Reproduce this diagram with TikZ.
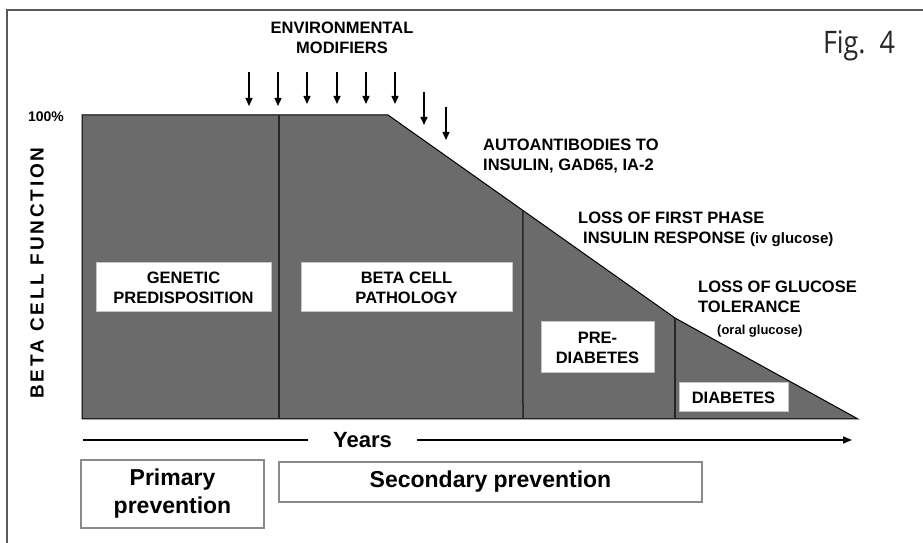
\documentclass[tikz,border=0pt]{standalone}
\usepackage{fontspec}
\setmainfont{Liberation Sans}
\newfontfamily\figfont{Open Sans}
\newfontfamily\spfont[LetterSpace=15]{Liberation Sans}
\usepackage{tikz}
\usetikzlibrary{positioning,arrows.meta,calc}
\definecolor{area}{HTML}{6B6B6B}
\definecolor{rim}{HTML}{8A8A8A}
\newcommand{\lbl}{\fontsize{16.5}{20}\selectfont\bfseries}

\begin{document}
\begin{tikzpicture}[x=1pt,y=1pt]
	\tikzstyle{lab}=[draw=rim!50,fill=white,line width=1pt,align=center,inner sep=0pt,font=\lbl]
	\tikzstyle{note}=[align=left,inner sep=0pt,anchor=west,font=\lbl]
	\tikzstyle{prev}=[draw=rim,line width=1.3pt,align=center,inner sep=0pt,font=\fontsize{23}{28}\selectfont\bfseries]
	\tikzstyle{mod}=[-{Triangle[length=8pt,width=7pt]},line width=1.3pt]
	\useasboundingbox (0,0) rectangle (923,543);
	\draw[black!65, line width=1.5pt] (7,0) -- (7,533) -- (923,533);
		\coordinate (p0) at (82,124);
		\coordinate (p1) at (82,428);
		\coordinate (p2) at (388,428);
		\coordinate (p3) at (675,225);
		\coordinate (p4) at (858,124);
			\filldraw[fill=area, draw=black, line width=1pt] (p0) -- (p1) -- (p2) -- (p3) -- (p4) -- cycle;
			\draw[black!85, line width=1.5pt] (279,124) -- (279,428);
			\draw[black!85, line width=1.5pt] (523,124) -- ($(p2)!0.47!(p3)$);
			\draw[black!85, line width=1.5pt] (675,124) -- (p3);
		\node[rotate=90, font=\spfont\fontsize{19}{21}\selectfont\bfseries] (bcf) at (37,270) {BETA CELL FUNCTION};
		\node[font=\fontsize{14}{16}\selectfont\bfseries] (pct) at (46,426) {100\%};
		\node[font=\lbl, align=center] (env) at (342,505) {ENVIRONMENTAL\\MODIFIERS};
		\node[anchor=base, text=black!85] (fig) at (859,489) {\resizebox{72pt}{\height}{\figfont\fontsize{31}{36}\selectfont Fig.~~4}};
		\coordinate (m1) at (249,471); \coordinate (n1) at (249,437);
		\coordinate (m2) at (278,471); \coordinate (n2) at (278,437);
		\coordinate (m3) at (307,471); \coordinate (n3) at (307,439);
		\coordinate (m4) at (337,471); \coordinate (n4) at (337,439);
		\coordinate (m5) at (366,471); \coordinate (n5) at (366,439);
		\coordinate (m6) at (395,471); \coordinate (n6) at (395,439);
		\coordinate (m7) at (424,451); \coordinate (n7) at (424,418);
		\coordinate (m8) at (446,436); \coordinate (n8) at (446,403);
			\draw[mod] (m1) -- (n1);
			\draw[mod] (m2) -- (n2);
			\draw[mod] (m3) -- (n3);
			\draw[mod] (m4) -- (n4);
			\draw[mod] (m5) -- (n5);
			\draw[mod] (m6) -- (n6);
			\draw[mod] (m7) -- (n7);
			\draw[mod] (m8) -- (n8);
		\node[note] (auto) at (483,386.5) {AUTOANTIBODIES TO\\INSULIN, GAD65, IA-2};
		\node[note] (first) at (578,314) {LOSS OF FIRST PHASE\\\hspace*{5pt}INSULIN RESPONSE {\fontsize{15}{20}\selectfont (iv glucose)}};
		\node[note] (gluc) at (698,234) {LOSS OF GLUCOSE\\TOLERANCE\\[2pt]\hspace*{19pt}{\fontsize{13}{16}\selectfont (oral glucose)}};
		\node[lab, minimum width=175pt, minimum height=49pt] (gen) at (183.5,255.5) {GENETIC\\PREDISPOSITION};
		\node[lab, minimum width=211pt, minimum height=49pt] (path) at (406.5,255.5) {BETA CELL\\PATHOLOGY};
		\node[lab, minimum width=113pt, minimum height=51pt] (pre) at (597.5,195.5) {PRE-\\DIABETES};
		\node[lab, minimum width=109pt, minimum height=29pt] (diab) at (733.5,145.5) {DIABETES};
		\coordinate (y0) at (83,103);
		\coordinate (y1) at (852,103);
		\node[font=\fontsize{22}{26}\selectfont\bfseries, minimum width=109pt, inner sep=0pt] (yrs) at (362.5,103) {Years};
			\draw[line width=1.5pt] (y0) -- (yrs);
			\draw[line width=1.5pt, -{Triangle[length=9pt,width=7pt]}] (yrs) -- (y1);
		\node[prev, minimum width=183pt, minimum height=68pt] (prim) at (172.5,49) {Primary\\prevention};
		\node[prev, minimum width=423pt, minimum height=40pt] (sec) at (490.5,61) {Secondary prevention};
\end{tikzpicture}
\end{document}
